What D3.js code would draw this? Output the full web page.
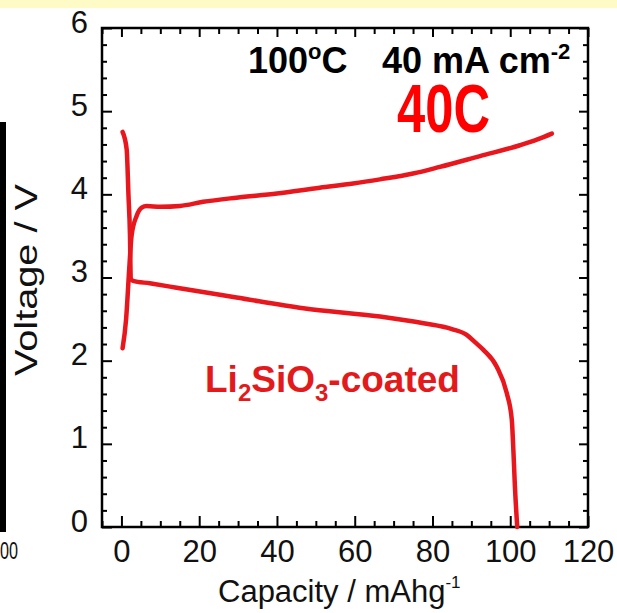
<!DOCTYPE html>
<html>
<head>
<meta charset="utf-8">
<script src="https://cdn.jsdelivr.net/npm/d3@7"></script>
<style>
  html, body { margin: 0; padding: 0; background: #fff; }
  svg { display: block; }
  text { font-family: "Liberation Sans", Arial, sans-serif; }
</style>
</head>
<body>
<svg id="chart" width="617" height="613"></svg>
<script>
// ---- data ----
const chargeCapacity = [0.3, 1.2, 2.0, 2.6, 3.9, 5.2, 6.5, 10, 15, 21, 29.6, 40, 51, 59.6, 66.5, 75, 81.9, 92.2, 102.5, 107, 110.7];
const chargeVoltage  = [2.15, 2.5, 3.1, 3.5, 3.74, 3.84, 3.86, 3.85, 3.86, 3.91, 3.96, 4.01, 4.08, 4.13, 4.18, 4.25, 4.33, 4.46, 4.59, 4.66, 4.73];

const dischargeCapacity = [0.3, 1.35, 1.8, 2.2, 2.4, 3.0, 7.3, 12.5, 15, 29.6, 46.8, 66.5, 77.7, 85, 88.8, 91, 93.1, 96.5, 99.1, 100.4, 100.8, 101.2, 101.8];
const dischargeVoltage  = [4.75, 4.54, 4.0, 3.5, 2.98, 2.96, 2.93, 2.89, 2.87, 2.76, 2.63, 2.53, 2.45, 2.38, 2.31, 2.22, 2.13, 1.93, 1.61, 1.29, 0.93, 0.49, 0.0];

const xMajorTicks = [0, 20, 40, 60, 80, 100, 120];
const yMajorTicks = [0, 1, 2, 3, 4, 5, 6];
const xLabel = "Capacity / mAhg";
const xLabelSup = "-1";
const yLabel = "Voltage / V";

// ---- layout ----
const svg = d3.select("#chart");
const L = 102, R = 588, T = 28, B = 527;
const x = d3.scaleLinear().domain([-5, 120]).range([L, R]);
const y = d3.scaleLinear().domain([0, 6]).range([B, T]);

const xMinor = d3.range(-5, 121, 5).filter(v => !xMajorTicks.includes(v));
const yMinor = d3.range(0, 6.01, 0.2).map(v => +v.toFixed(1)).filter(v => !yMajorTicks.includes(v));

// top yellow band
svg.append("rect").attr("x", 0).attr("y", 0).attr("width", 617).attr("height", 8).attr("fill", "#fffbc6");

// cut-off neighbour panel remnants
svg.append("rect").attr("x", 0).attr("y", 122).attr("width", 6).attr("height", 410).attr("fill", "#000");
svg.append("text").attr("x", 0).attr("y", 559)
  .attr("font-size", 23).attr("fill", "#111")
  .attr("textLength", 18).attr("lengthAdjust", "spacingAndGlyphs").text("00");

// axes
function styleAxis(g) {
  g.select(".domain").remove();
  g.selectAll(".tick line").attr("stroke", "#000").attr("stroke-width", 2);
  g.selectAll(".tick text").attr("fill", "#111").attr("font-size", 31)
    .attr("font-family", "'Liberation Sans', Arial, sans-serif");
}

svg.append("g").attr("transform", `translate(0,${B})`)
  .call(d3.axisBottom(x).tickValues(xMajorTicks).tickSize(-11).tickPadding(13).tickFormat(d3.format("d")))
  .call(styleAxis);
svg.append("g").attr("transform", `translate(0,${B})`)
  .call(d3.axisBottom(x).tickValues(xMinor).tickSize(-6).tickFormat(""))
  .call(styleAxis);
svg.append("g").attr("transform", `translate(0,${T})`)
  .call(d3.axisTop(x).tickValues(xMajorTicks).tickSize(-9).tickFormat(""))
  .call(styleAxis);
svg.append("g").attr("transform", `translate(0,${T})`)
  .call(d3.axisTop(x).tickValues(xMinor).tickSize(-6).tickFormat(""))
  .call(styleAxis);

const yAx = svg.append("g").attr("transform", `translate(${L},0)`)
  .call(d3.axisLeft(y).tickValues(yMajorTicks).tickSize(-10).tickPadding(14).tickFormat(d3.format("d")))
  .call(styleAxis);
yAx.selectAll(".tick text").attr("dy", "0.13em");
svg.append("g").attr("transform", `translate(${L},0)`)
  .call(d3.axisLeft(y).tickValues(yMinor).tickSize(-5).tickFormat(""))
  .call(styleAxis);
svg.append("g").attr("transform", `translate(${R},0)`)
  .call(d3.axisRight(y).tickValues(yMajorTicks).tickSize(-9).tickFormat(""))
  .call(styleAxis);
svg.append("g").attr("transform", `translate(${R},0)`)
  .call(d3.axisRight(y).tickValues(yMinor).tickSize(-5).tickFormat(""))
  .call(styleAxis);

// frame
svg.append("rect").attr("x", L).attr("y", T).attr("width", R - L).attr("height", B - T)
  .attr("fill", "none").attr("stroke", "#000").attr("stroke-width", 2.5);

// curves
const line = d3.line().x(d => x(d[0])).y(d => y(d[1])).curve(d3.curveMonotoneX);
const chargeData = chargeCapacity.map((c, i) => [c, chargeVoltage[i]]);
const dischargeData = dischargeCapacity.map((c, i) => [c, dischargeVoltage[i]]);
[chargeData, dischargeData].forEach(d => {
  svg.append("path").datum(d).attr("d", line)
    .attr("fill", "none").attr("stroke", "#e8161d").attr("stroke-width", 4.5)
    .attr("stroke-linejoin", "round").attr("stroke-linecap", "round");
});

// axis titles
const xt = svg.append("text").attr("x", 218).attr("y", 602).attr("font-size", 31).attr("fill", "#111");
xt.append("tspan").text(xLabel);
xt.append("tspan").attr("font-size", 17).attr("dy", -14).text(xLabelSup);

svg.append("text").attr("transform", "translate(37,280) rotate(-90)")
  .attr("text-anchor", "middle").attr("font-size", 31).attr("fill", "#111")
  .attr("textLength", 192).attr("lengthAdjust", "spacingAndGlyphs")
  .text(yLabel);

// annotations
const a1 = svg.append("text").attr("x", 248).attr("y", 73).attr("font-size", 36)
  .attr("font-weight", "bold").attr("fill", "#000");
a1.append("tspan").text("100");
a1.append("tspan").attr("font-size", 22).attr("dy", -14.5).text("o");
a1.append("tspan").attr("dy", 14.5).text("C");

const a2 = svg.append("text").attr("x", 382).attr("y", 73).attr("font-size", 36)
  .attr("font-weight", "bold").attr("fill", "#000");
a2.append("tspan").text("40 mA cm");
a2.append("tspan").attr("font-size", 22).attr("dy", -14.5).text("-2");

svg.append("text").attr("x", 397).attr("y", 132).attr("font-size", 68)
  .attr("font-weight", "bold").attr("fill", "#ff0000")
  .style("font-family", "'Liberation Sans Narrow', 'Liberation Sans', Arial, sans-serif")
  .attr("textLength", 93).attr("lengthAdjust", "spacingAndGlyphs")
  .text("40C");

const a3 = svg.append("text").attr("x", 205).attr("y", 392).attr("font-size", 37)
  .attr("font-weight", "bold").attr("fill", "#e31a1c");
a3.append("tspan").text("Li");
a3.append("tspan").attr("font-size", 24).attr("dy", 9).text("2");
a3.append("tspan").attr("dy", -9).text("SiO");
a3.append("tspan").attr("font-size", 24).attr("dy", 9).text("3");
a3.append("tspan").attr("dy", -9).text("-coated");
</script>
</body>
</html>
